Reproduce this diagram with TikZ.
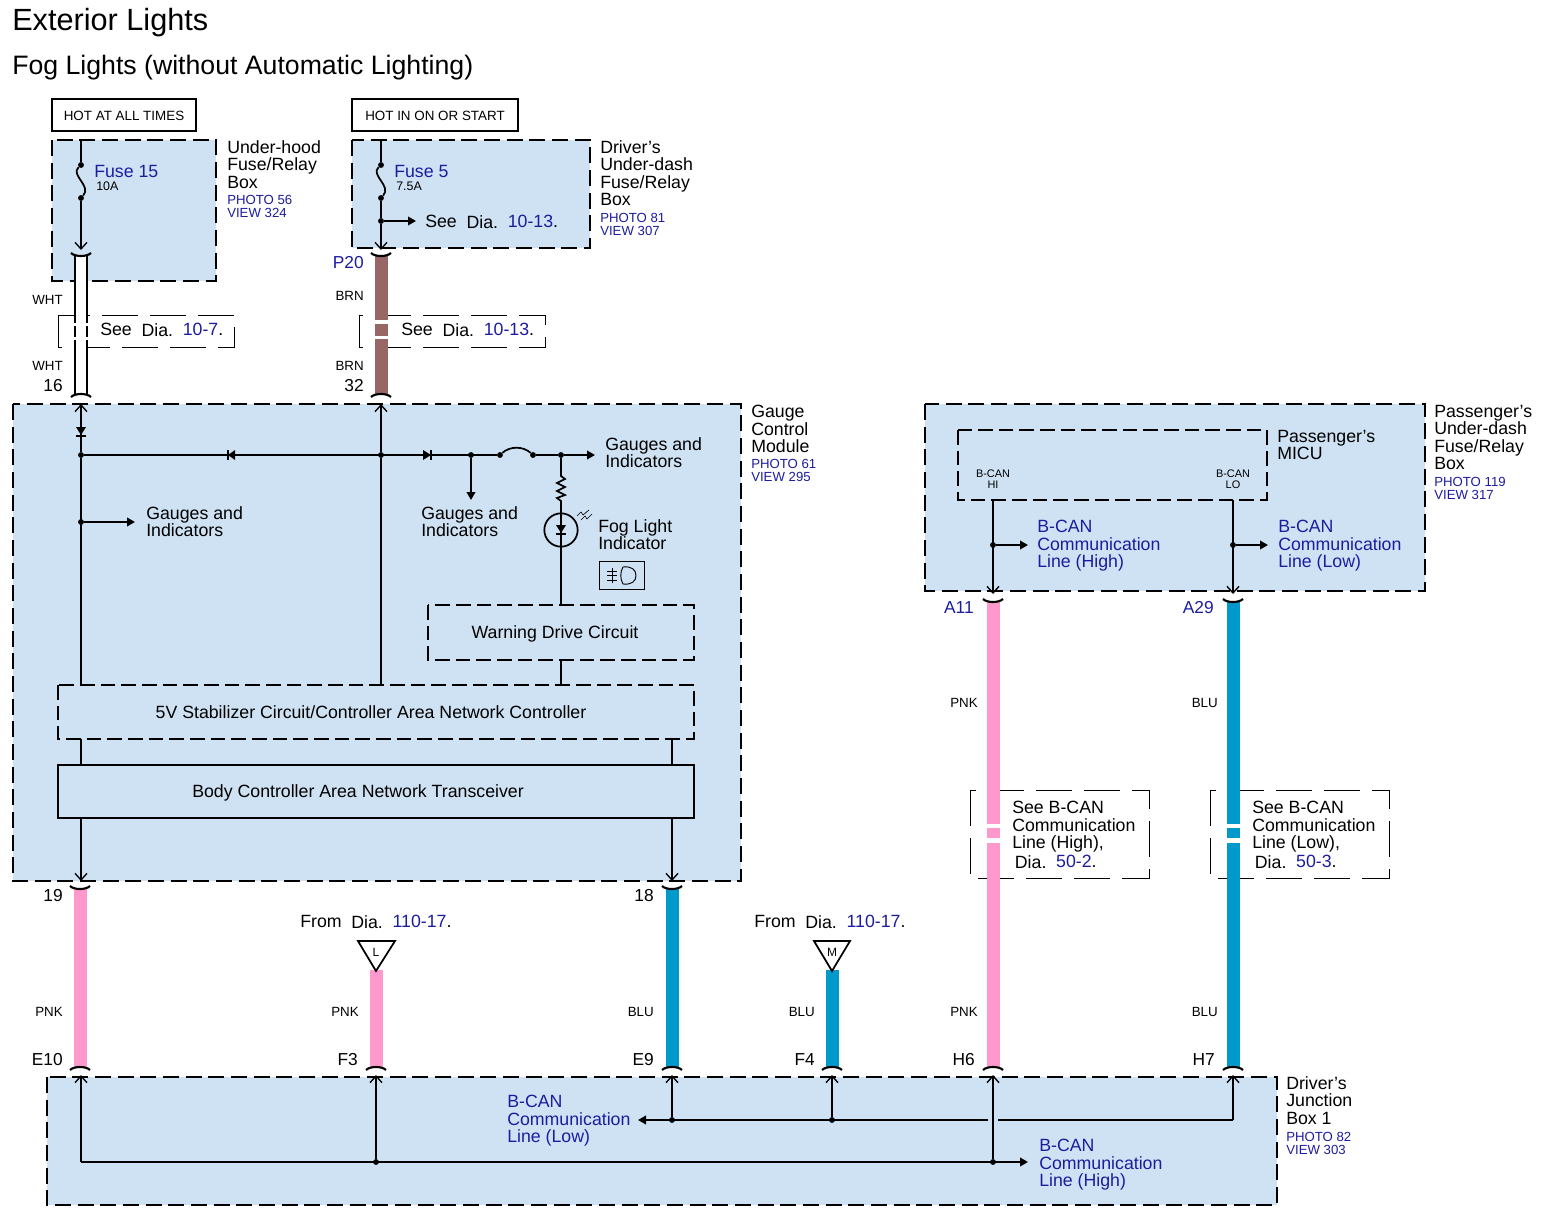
\documentclass[tikz,border=0pt]{standalone}
\usepackage{fontspec}
\setmainfont{Liberation Sans}
\usetikzlibrary{arrows.meta}

\definecolor{modfill}{HTML}{CFE2F3}
\definecolor{refblue}{HTML}{1C1CA0}
\definecolor{pnkwire}{HTML}{FF99CC}
\definecolor{bluwire}{HTML}{0099CC}
\definecolor{brnwire}{HTML}{996666}

\newcommand{\dianum}[2][0.55em]{\raisebox{-0.75pt}{Dia.}\hspace{#1}\textcolor{refblue}{#2}.}

\tikzset{
    module/.style={draw, fill=modfill, line width=1.9pt, dash pattern=on 12pt off 5pt},
    subbox/.style={draw, line width=1.7pt, dash pattern=on 11pt off 4.5pt},
    solidbox/.style={draw, line width=1.5pt},
    hotbox/.style={draw, line width=1.1pt, minimum height=24pt, inner sep=0pt, text height=9pt, text depth=0pt, font=\fontsize{10.05}{12}\selectfont},
    seebox/.style={draw, line width=0.6pt, dash pattern=on 27pt off 9pt},
    lbl/.style={anchor=north west, inner sep=0pt, align=left, yshift=-0.75pt, font=\fontsize{13.3}{13.1}\selectfont},
    bluelbl/.style={lbl, text=refblue},
    photolbl/.style={anchor=north west, inner sep=0pt, align=left, yshift=-0.75pt, text=refblue, font=\fontsize{9.9}{9.9}\selectfont},
    wirelbl/.style={anchor=east, inner sep=0pt, yshift=-0.75pt, font=\fontsize{10}{12}\selectfont},
    pinlbl/.style={anchor=east, inner sep=0pt, yshift=-0.75pt, font=\fontsize{13}{15}\selectfont},
    jct/.style={circle, fill, inner sep=0pt, minimum size=4.4pt},
    wire/.style={line width=1.3pt},
    toconn/.style={wire, -{Straight Barb[length=5pt,width=9pt,line width=1pt]}},
    tobranch/.style={wire, -{Triangle[length=6pt,width=6.5pt]}},
    harness/.style={line width=9.75pt},
}

\begin{document}
\begin{tikzpicture}[x=0.75pt, y=-0.75pt]
    \useasboundingbox (0,0) rectangle (1543,1223);

    % Titles
    \node[anchor=base west, inner sep=0pt, font=\fontsize{23}{26}\selectfont] (title) at (12,31) {Exterior Lights};
    \node[anchor=base west, inner sep=0pt, font=\fontsize{20}{24}\selectfont] (subtitle) at (12,75) {Fog Lights (without Automatic Lighting)};

    % Modules
    \foreach \n/\xa/\ya/\xb/\yb in {
        uhood/52/140/216/281, dudash/352/140/590/248, gauge/13/404/741/881,
        pass/925/404/1425/591, djb/47/1077/1277/1205}
    {
        \draw[module] (\xa,\ya) rectangle (\xb,\yb);
        \coordinate (\n) at (\xa,\ya);
    }

    % Inner blocks
    \draw[subbox] (958,430) rectangle (1267,500);
    \draw[subbox] (428,605) rectangle (694,660);
    \draw[subbox] (58,685) rectangle (694,739);
    \draw[solidbox] (58,765) rectangle (694,818);
    \node[lbl, anchor=center] (warn) at (555,633) {Warning Drive Circuit};
    \node[lbl, anchor=center] (stab) at (371,711) {5V Stabilizer Circuit/Controller Area Network Controller};
    \node[lbl, anchor=center] (trans) at (358,792) {Body Controller Area Network Transceiver};
    \node[hotbox, minimum width=108pt] (hotall) at (124,115) {HOT AT ALL TIMES};
    \node[hotbox, minimum width=124.5pt] (hoton) at (435,115) {HOT IN ON OR START};

    % Module names
    \node[lbl] (uhoodname) at (227,139) {Under-hood\\Fuse/Relay\\Box};
    \node[photolbl] (uhoodview) at (227,194) {PHOTO 56\\VIEW 324};
    \node[lbl] (dudashname) at (600,139) {Driver's\\Under-dash\\Fuse/Relay\\Box};
    \node[photolbl] (dudashview) at (600,212) {PHOTO 81\\VIEW 307};
    \node[lbl] (gaugename) at (751,404) {Gauge\\Control\\Module};
    \node[photolbl] (gaugeview) at (751,458) {PHOTO 61\\VIEW 295};
    \node[lbl] (passname) at (1434,404) {Passenger's\\Under-dash\\Fuse/Relay\\Box};
    \node[photolbl] (passview) at (1434,476) {PHOTO 119\\VIEW 317};
    \node[lbl] (micuname) at (1277,429) {Passenger's\\MICU};
    \node[lbl] (djbname) at (1286,1075) {Driver's\\Junction\\Box 1};
    \node[photolbl] (djbview) at (1286,1131) {PHOTO 82\\VIEW 303};

    % Notes at the harness breaks
    \draw[seebox] (58,315) rectangle (234,347);
    \draw[seebox] (359,315) rectangle (545,347);
    \draw[seebox] (970,790) rectangle (1149,878);
    \draw[seebox] (1210,790) rectangle (1389,878);
    \node[lbl] (see107) at (100,322) {See\hspace{0.55em}\dianum{10-7}};
    \node[lbl] (see1013) at (401,322) {See\hspace{0.55em}\dianum{10-13}};
    \node[lbl] (seehigh) at (1012,800) {See B-CAN\\Communication\\Line (High),\\[0.8pt]\hspace{2pt}\dianum{50-2}};
    \node[lbl] (seelow) at (1252,800) {See B-CAN\\Communication\\Line (Low),\\[0.8pt]\hspace{2pt}\dianum{50-3}};

    % Harness: name/x/top/bottom/colour
    \foreach \n/\x/\yt/\yb/\col in {
        hbrn/381/256/394/brnwire, hpnka/80/889/1067/pnkwire, hblua/672/889/1067/bluwire,
        hpnkb/376/970/1067/pnkwire, hblub/832/970/1067/bluwire,
        hpnkc/993/602/1067/pnkwire, hbluc/1233/602/1067/bluwire}
    {
        \coordinate (\n t) at (\x,\yt);
        \coordinate (\n b) at (\x,\yb);
        \draw[harness, draw=\col] (\n t) -- (\n b);
    }
    \coordinate (hwhtt) at (81,256);
    \coordinate (hwhtb) at (81,394);
    \draw[line width=10.5pt] (hwhtt) -- (hwhtb);
    \draw[line width=6.8pt, white] (hwhtt) -- (hwhtb);

    % White breaks in the harness
    \foreach \x/\ya/\yb in {
        81/323/326, 81/337/340, 381/320/324, 381/336/339,
        993/824/828, 993/838/843, 1233/824/828, 1233/838/843}
    {
        \fill[white] (\x-8,\ya) rectangle (\x+8,\yb);
    }

    % Connector caps, upper and lower ends
    \foreach \x/\y in {81/256, 381/256, 80/889, 672/889, 993/602, 1233/602}
    {
        \draw[line width=1.6pt] (\x-10,\y-3) .. controls (\x-6,\y+1) and (\x+6,\y+1) .. (\x+10,\y-3);
    }
    \foreach \x/\y in {81/394, 381/394, 80/1067, 376/1067, 672/1067, 832/1067, 993/1067, 1233/1067}
    {
        \draw[line width=1.6pt] (\x-10,\y+3) .. controls (\x-6,\y-1) and (\x+6,\y-1) .. (\x+10,\y+3);
    }

    % Wire colours
    \foreach \i/\x/\y/\t in {
        wa/63/299/WHT, wb/63/365/WHT, wc/364/295/BRN, wd/364/365/BRN,
        we/63/1011/PNK, wf/359/1011/PNK, wg/654/1011/BLU, wh/815/1011/BLU,
        wi/978/1011/PNK, wj/1218/1011/BLU, wk/978/702/PNK, wl/1218/702/BLU}
    {
        \node[wirelbl] (\i) at (\x,\y) {\t};
    }

    % Pin numbers
    \foreach \i/\x/\y/\t in {
        pa/63/385/16, pb/364/385/32, pc/63/895/19, pd/654/895/18,
        pe/63/1059/E10, pf/358/1059/F3, pg/654/1059/E9, ph/815/1059/F4,
        pi/975/1059/H6, pj/1215/1059/H7}
    {
        \node[pinlbl] (\i) at (\x,\y) {\t};
    }
    \node[pinlbl, text=refblue] (pp20) at (364,262) {P20};
    \node[pinlbl, text=refblue] (pa11) at (974,607) {A11};
    \node[pinlbl, text=refblue] (pa29) at (1214,607) {A29};

    % Fuse 15
    \node[jct] (f15a) at (81,165) {};
    \node[jct] (f15b) at (81,198) {};
    \coordinate (f15top) at (81,140);
    \coordinate (f15end) at (81,250);
    \draw[wire] (f15top) -- (f15a);
    \draw[wire] (f15a) .. controls (70,175) and (92,186) .. (f15b);
    \draw[toconn] (f15b) -- (f15end);
    \node[bluelbl] (f15name) at (94,164) {Fuse 15};
    \node[anchor=west, inner sep=0pt, font=\fontsize{9.3}{11}\selectfont] (f15amp) at (96,186) {10A};

    % Fuse 5
    \node[jct] (f5a) at (381,165) {};
    \node[jct] (f5b) at (381,198) {};
    \node[jct] (f5c) at (381,221) {};
    \coordinate (f5top) at (381,140);
    \coordinate (f5end) at (381,250);
    \coordinate (f5out) at (416,221);
    \draw[wire] (f5top) -- (f5a);
    \draw[wire] (f5a) .. controls (370,175) and (392,186) .. (f5b);
    \draw[wire] (f5b) -- (f5c);
    \draw[toconn] (f5c) -- (f5end);
    \draw[tobranch] (f5c) -- (f5out);
    \node[bluelbl] (f5name) at (394,164) {Fuse 5};
    \node[anchor=west, inner sep=0pt, font=\fontsize{9.3}{11}\selectfont] (f5amp) at (396,186) {7.5A};
    \node[lbl] (see1013b) at (425,214) {See\hspace{0.55em}\dianum{10-13}};

    % Gauge module wiring
    \foreach \n/\x in {ga/81, gb/381, gc/471, gd/500, ge/533, gf/561}
    {
        \node[jct] (\n) at (\x,455) {};
    }
    \node[jct] (gg) at (81,522) {};
    \coordinate (pin16) at (81,404);
    \coordinate (pin32) at (381,404);
    \coordinate (gaugesr) at (595,455);
    \coordinate (gaugesm) at (471,500);
    \coordinate (gaugesl) at (135,522);
    \coordinate (stabl) at (81,685);
    \coordinate (stabm) at (381,685);
    \coordinate (stabr) at (561,685);
    \coordinate (warnt) at (561,605);
    \coordinate (warnb) at (561,660);
    \draw[toconn] (ga) -- (pin16);
    \draw[toconn] (gb) -- (pin32);
    \draw[wire] (ga) -- (gd);
    \draw[wire] (gd) .. controls (510,446) and (523,446) .. (ge);
    \draw[wire] (ge) -- (gf);
    \draw[tobranch] (gf) -- (gaugesr);
    \draw[tobranch] (gc) -- (gaugesm);
    \draw[wire] (ga) -- (stabl);
    \draw[wire] (gb) -- (stabm);
    \draw[tobranch] (gg) -- (gaugesl);
    \draw[wire] (warnb) -- (stabr);
    \node[lbl] (gaugestxtl) at (146,505) {Gauges and\\Indicators};
    \node[lbl] (gaugestxtm) at (421,505) {Gauges and\\Indicators};
    \node[lbl] (gaugestxtr) at (605,436) {Gauges and\\Indicators};

    % Diodes
    \fill (76,427) -- (86,427) -- (81,435) -- cycle;
    \draw[line width=0.9pt] (76,436) -- (86,436);
    \fill (235,450) -- (235,460) -- (228,455) -- cycle;
    \draw[line width=0.9pt] (228,450) -- (228,460);
    \fill (423,450) -- (423,460) -- (431,455) -- cycle;
    \draw[line width=0.9pt] (431,450) -- (431,460);

    % Indicator
    \node[circle, draw, line width=1.3pt, minimum size=25pt, inner sep=0pt] (lamp) at (561,530) {};
    \draw[wire] (gf) -- (561,476) -- (565,479) -- (557,483) -- (565,487) -- (557,491) -- (565,495) -- (557,498) -- (561,501) -- (lamp.north);
    \draw[wire] (lamp.north) -- (warnt);
    \fill (556,525) -- (566,525) -- (561,533) -- cycle;
    \draw[line width=0.9pt] (556,534) -- (566,534);
    \draw[line width=0.5pt] (577,516) -- (581,512) -- (583,515) -- (589,510);
    \draw[line width=0.5pt] (581,520) -- (585,516) -- (587,519) -- (592,514);
    \node[lbl] (foglbl) at (598,518) {Fog Light\\Indicator};
    \draw[line width=0.6pt] (599,561) rectangle (644,589);
    \draw[line width=0.7pt] (612,568) -- (612,583);
    \foreach \y in {571,575.5,580}
    {
        \draw[line width=0.7pt] (607,\y) -- (617,\y);
    }
    \draw[line width=0.7pt] (623,567) .. controls (620,572) and (620,579) .. (623,584)
        .. controls (632,585) and (636,581) .. (636,575.5)
        .. controls (636,570) and (632,566) .. (623,567);

    % Gauge module outputs
    \foreach \n/\x in {tl/81, tr/672}
    {
        \coordinate (\n a) at (\x,739);
        \coordinate (\n b) at (\x,765);
        \coordinate (\n c) at (\x,818);
        \coordinate (\n d) at (\x,881);
        \draw[wire] (\n a) -- (\n b);
        \draw[toconn] (\n c) -- (\n d);
    }

    % Passenger's fuse box
    \node[anchor=center, inner sep=0pt, align=center, font=\fontsize{8.2}{8.2}\selectfont] (hipin) at (993,479) {B-CAN\\HI};
    \node[anchor=center, inner sep=0pt, align=center, font=\fontsize{8.2}{8.2}\selectfont] (lopin) at (1233,479) {B-CAN\\LO};
    \foreach \n/\x in {hi/993, lo/1233}
    {
        \coordinate (\n top) at (\x,500);
        \coordinate (\n end) at (\x,594);
        \coordinate (\n out) at (\x+35,545);
        \node[jct] (\n j) at (\x,545) {};
        \draw[toconn] (\n top) -- (\n end);
        \draw[tobranch] (\n j) -- (\n out);
    }
    \node[bluelbl] (canhi) at (1037,519) {B-CAN\\Communication\\Line (High)};
    \node[bluelbl] (canlo) at (1278,519) {B-CAN\\Communication\\Line (Low)};

    % From other diagrams
    \node[lbl] (froml) at (300,914) {From\hspace{0.55em}\dianum{110-17}};
    \node[lbl] (fromm) at (754,914) {From\hspace{0.55em}\dianum{110-17}};
    \coordinate (tla) at (358,941);
    \coordinate (tlb) at (395,941);
    \coordinate (tlc) at (376,971);
    \coordinate (tma) at (814,941);
    \coordinate (tmb) at (850,941);
    \coordinate (tmc) at (832,971);
    \draw[wire, line join=miter] (tla) -- (tlb) -- (tlc) -- cycle;
    \draw[wire, line join=miter] (tma) -- (tmb) -- (tmc) -- cycle;
    \node[inner sep=0pt, font=\fontsize{9}{11}\selectfont] (tll) at (376,952) {L};
    \node[inner sep=0pt, font=\fontsize{9}{11}\selectfont] (tml) at (832,952) {M};

    % Junction box wiring
    \node[jct] (ja) at (376,1162) {};
    \node[jct] (jb) at (993,1162) {};
    \node[jct] (jc) at (672,1120) {};
    \node[jct] (jd) at (832,1120) {};
    \coordinate (jhstart) at (81,1162);
    \coordinate (jhend) at (1028,1162);
    \coordinate (jlstart) at (1233,1120);
    \coordinate (jlend) at (638,1120);
    \coordinate (jgapr) at (998,1120);
    \coordinate (jgapl) at (988,1120);
    \foreach \n/\x/\from in {e10/81/jhstart, f3/376/ja, h6/993/jb, e9/672/jc, f4/832/jd, h7/1233/jlstart}
    {
        \coordinate (\n) at (\x,1075);
        \draw[toconn] (\from) -- (\n);
    }
    \draw[tobranch] (jhstart) -- (jhend);
    \draw[wire] (jlstart) -- (jgapr);
    \draw[tobranch] (jgapl) -- (jlend);
    \node[bluelbl] (djblow) at (507,1094) {B-CAN\\Communication\\Line (Low)};
    \node[bluelbl] (djbhigh) at (1039,1138) {B-CAN\\Communication\\Line (High)};
\end{tikzpicture}
\end{document}
